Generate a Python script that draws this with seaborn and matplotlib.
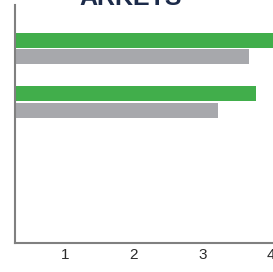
# Horizontal paired bar chart, cropped view

import numpy as np
import pandas as pd
import seaborn as sb
from matplotlib import pyplot as plt

CATEGORIES = ["A", "B"]
SERIES = ["current", "previous"]
CURRENT = [4.3, 3.78]
PREVIOUS = [3.68, 3.23]
XTICKS = [1, 2, 3, 4]
TITLE = "ARKETS"

GREEN = "#41ae4b"
GREY = "#a7a8ac"
SPINE = "#808080"

df = pd.DataFrame({
    "category": CATEGORIES * 2,
    "series": [SERIES[0]] * len(CATEGORIES) + [SERIES[1]] * len(CATEGORIES),
    "value": CURRENT + PREVIOUS,
})

sb.set_style("white")
plt.rcParams['font.family'] = ['Liberation Sans', 'DejaVu Sans']

fig = plt.figure(figsize=(2.73, 2.72), dpi=100)
# axes run off the right edge of the figure, like the cropped original
ax = fig.add_axes([15 / 273, 29 / 272, 290 / 273, 238 / 272])
sb.barplot(data=df, y="category", x="value", hue="series", orient="h",
           palette=[GREEN, GREY], width=0.62, gap=0.09, legend=False,
           saturation=1, linewidth=0, ax=ax)

ax.set_xlim(0.263, 4.5)
ax.set_ylim(3.636, -0.813)
ax.set_xticks(XTICKS)
ax.set_xticklabels([str(t) for t in XTICKS])
ax.set_yticks([])
ax.set_xlabel("")
ax.set_ylabel("")
ax.tick_params(axis="x", length=0, pad=3.6, labelsize=11, labelcolor="#2b2b2b")
for side in ["top", "right"]:
    ax.spines[side].set_visible(False)
for side in ["left", "bottom"]:
    ax.spines[side].set_color(SPINE)
    ax.spines[side].set_linewidth(1.5)

fig.text(131 / 273, 1 - 5 / 272, TITLE, ha="center", va="baseline",
         fontsize=18, fontweight="bold", color="#1c2b4a")

fig.savefig("out.png", dpi=100)
